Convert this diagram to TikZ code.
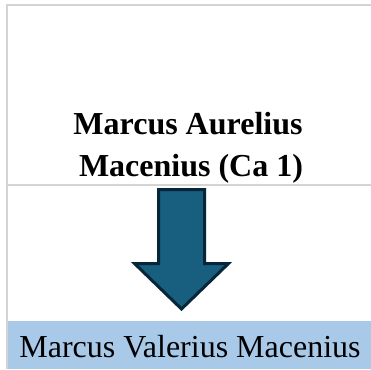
\documentclass[tikz,border=0pt]{standalone}
\usepackage{fontspec}
\setmainfont{Liberation Serif}
\usepackage{xcolor}
\usepackage{tikz}
\usetikzlibrary{positioning}
\definecolor{gridgray}{HTML}{D4D4D4}
\definecolor{bandblue}{HTML}{A9C9E9}
\definecolor{arrowfill}{HTML}{175E7F}
\definecolor{arrowdraw}{HTML}{08263A}
\begin{document}
\begin{tikzpicture}[
    x=1pt, y=-1pt,
    gridline/.style={draw=gridgray, line width=2.2pt},
    band/.style={fill=bandblue, draw=none},
    heading/.style={font=\fontsize{32}{42}\selectfont\bfseries, align=center, inner sep=0pt},
    bandtext/.style={font=\fontsize{32}{36}\selectfont, inner sep=0pt},
    blockarrow/.style={draw=arrowdraw, fill=arrowfill, line width=3pt, line join=miter}
]
\useasboundingbox (0,0) rectangle (371,369);

% cell frame
\fill[white] (0,0) rectangle (371,369);
\path[band] (8,321) rectangle (371,369);
\draw[gridline] (7,369) -- (7,5) -- (371,5);
\draw[gridline] (7,185) -- (371,185);

% texts
\node[heading] (aurelius) at (188,148) {Marcus Aurelius\\\hspace*{6pt}Macenius (Ca 1)};
\node[bandtext] (valerius) at (190,347) {Marcus Valerius Macenius};

% big arrow between the two
\coordinate (shafttop) at (181.5,189.5);
\coordinate (tip) at (181.5,309);
\draw[blockarrow] (158.5,189.5) -- (204.5,189.5) -- (204.5,263.5) -- (228.5,263.5)
    -- (tip) -- (134.5,263.5) -- (158.5,263.5) -- cycle;
\end{tikzpicture}
\end{document}
